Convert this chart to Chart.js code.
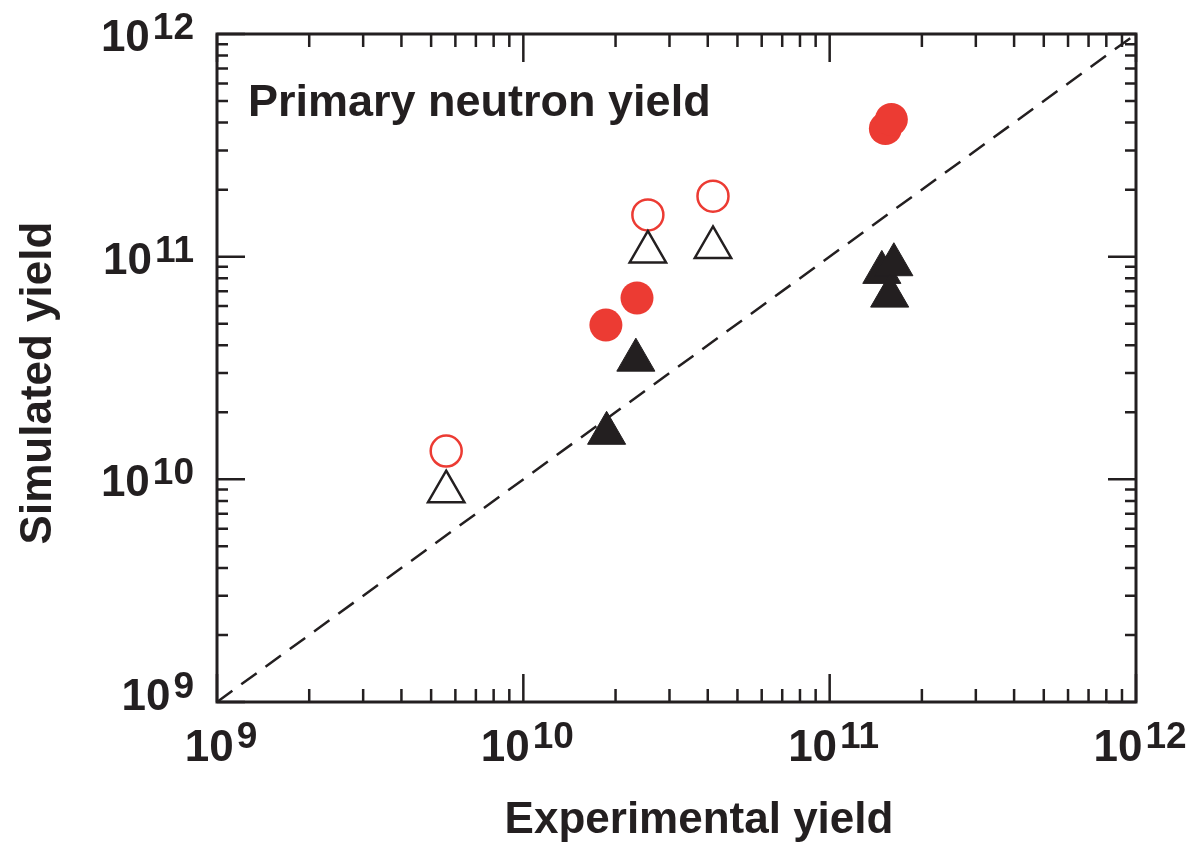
<!DOCTYPE html>
<html>
<head>
<meta charset="utf-8">
<script src="https://cdn.jsdelivr.net/npm/chart.js@4.4.1/dist/chart.umd.min.js"></script>
<style>
  html, body { margin: 0; padding: 0; background: #fff; }
  #wrap { width: 1191px; height: 843px; }
</style>
</head>
<body>
<div id="wrap"><canvas id="yieldChart" width="1191" height="843"></canvas></div>
<script>
// yields (experimental on x, simulated on y)
const openCircleX = [5.6e9, 2.55e10, 4.16e10];
const openCircleY = [1.34e10, 1.54e11, 1.87e11];

const openTriX = [5.6e9, 2.55e10, 4.16e10];
const openTriY = [8.8e9, 1.05e11, 1.10e11];

const filledCircleX = [1.86e10, 2.35e10, 1.52e11, 1.59e11];
const filledCircleY = [4.93e10, 6.52e10, 3.76e11, 4.13e11];

const filledTriX = [1.87e10, 2.33e10, 1.48e11, 1.62e11, 1.57e11];
const filledTriY = [1.61e10, 3.43e10, 8.5e10, 9.2e10, 6.65e10];

// y = x reference line ends
const diagX = [1e9, 1e12];

// decade ticks and their exponents
const decadeTicks = [1e9, 1e10, 1e11, 1e12];
const tickExponents = ['9', '10', '11', '12'];

const ink = '#231f20';
const red = '#ec3b33';

function pts(xs, ys) {
    return xs.map((x, i) => ({ x, y: ys[i] }));
}

// frame, inward ticks on all four sides, 10^n labels and titles
const frameAndLabels = {
    id: 'frameAndLabels',
    afterDraw(chart) {
        const ctx = chart.ctx;
        const { left, right, top, bottom } = chart.chartArea;
        const xs = chart.scales.x;
        const ys = chart.scales.y;

        ctx.save();
        ctx.strokeStyle = ink;
        ctx.fillStyle = ink;

        // ticks
        ctx.lineWidth = 2.5;
        ctx.beginPath();
        for (let n = 9; n <= 12; n++) {
            for (let k = 1; k <= 9; k++) {
                const v = k * Math.pow(10, n);
                if (v > 1e12) break;
                const major = k === 1;
                const px = xs.getPixelForValue(v);
                const py = ys.getPixelForValue(v);
                const lx = major ? 28 : 13;
                const ly = major ? 28 : 11;
                ctx.moveTo(px, bottom); ctx.lineTo(px, bottom - lx);
                ctx.moveTo(px, top); ctx.lineTo(px, top + lx);
                ctx.moveTo(left, py); ctx.lineTo(left + ly, py);
                ctx.moveTo(right, py); ctx.lineTo(right - ly, py);
            }
        }
        ctx.stroke();

        // frame
        ctx.lineWidth = 3;
        ctx.strokeRect(left, top, right - left, bottom - top);

        // tick labels: "10" with a raised exponent
        const baseFont = 'bold 44px "Liberation Sans", Arial, sans-serif';
        const expFont = 'bold 37px "Liberation Sans", Arial, sans-serif';
        ctx.textBaseline = 'alphabetic';
        ctx.textAlign = 'left';
        decadeTicks.forEach((v, i) => {
            const e = tickExponents[i];
            ctx.font = baseFont;
            const wb = ctx.measureText('10').width;
            ctx.font = expFont;
            const we = ctx.measureText(e).width;
            const gap = 3;
            const total = wb + gap + we;

            // x axis
            const cx = xs.getPixelForValue(v) + 4;
            let x0 = cx - total / 2;
            ctx.font = baseFont;
            ctx.fillText('10', x0, 761);
            ctx.font = expFont;
            ctx.fillText(e, x0 + wb + gap, 748);

            // y axis
            const py = ys.getPixelForValue(v);
            const base = Math.min(py + 17, 710);
            const rx = 194;
            x0 = rx - total;
            ctx.font = baseFont;
            ctx.fillText('10', x0, base);
            ctx.font = expFont;
            ctx.fillText(e, x0 + wb + gap, base - 12);
        });

        // axis titles and panel label
        ctx.font = 'bold 44px "Liberation Sans", Arial, sans-serif';
        ctx.textAlign = 'center';
        ctx.fillText('Experimental yield', 699, 833);

        ctx.save();
        ctx.translate(51, 383);
        ctx.rotate(-Math.PI / 2);
        ctx.fillText('Simulated yield', 0, 0);
        ctx.restore();

        ctx.font = 'bold 45px "Liberation Sans", Arial, sans-serif';
        ctx.textAlign = 'left';
        ctx.fillText('Primary neutron yield', 248, 116);

        ctx.restore();
    }
};

new Chart(document.getElementById('yieldChart').getContext('2d'), {
    type: 'scatter',
    data: {
        datasets: [
            {
                type: 'line',
                label: 'y = x',
                data: pts(diagX, diagX),
                borderColor: ink,
                borderWidth: 2.5,
                borderDash: [19, 11],
                pointRadius: 0,
                fill: false
            },
            {
                label: 'open triangles',
                data: pts(openTriX, openTriY),
                pointStyle: 'triangle',
                pointRadius: 21,
                borderColor: ink,
                borderWidth: 2.5,
                backgroundColor: 'rgba(0,0,0,0)'
            },
            {
                label: 'open circles',
                data: pts(openCircleX, openCircleY),
                pointStyle: 'circle',
                pointRadius: 15.5,
                borderColor: red,
                borderWidth: 2.5,
                backgroundColor: 'rgba(0,0,0,0)'
            },
            {
                label: 'filled triangles',
                data: pts(filledTriX, filledTriY),
                pointStyle: 'triangle',
                pointRadius: 22,
                borderColor: ink,
                borderWidth: 1,
                backgroundColor: ink
            },
            {
                label: 'filled circles',
                data: pts(filledCircleX, filledCircleY),
                pointStyle: 'circle',
                pointRadius: 16.5,
                borderWidth: 0,
                backgroundColor: red
            }
        ]
    },
    options: {
        responsive: false,
        animation: false,
        layout: {
            padding: { left: 217, right: 55, top: 34, bottom: 141 }
        },
        plugins: {
            legend: { display: false },
            tooltip: { enabled: false },
            title: { display: false }
        },
        scales: {
            x: {
                type: 'logarithmic',
                min: 1e9,
                max: 1e12,
                display: false
            },
            y: {
                type: 'logarithmic',
                min: 1e9,
                max: 1e12,
                display: false
            }
        }
    },
    plugins: [frameAndLabels]
});
</script>
</body>
</html>
